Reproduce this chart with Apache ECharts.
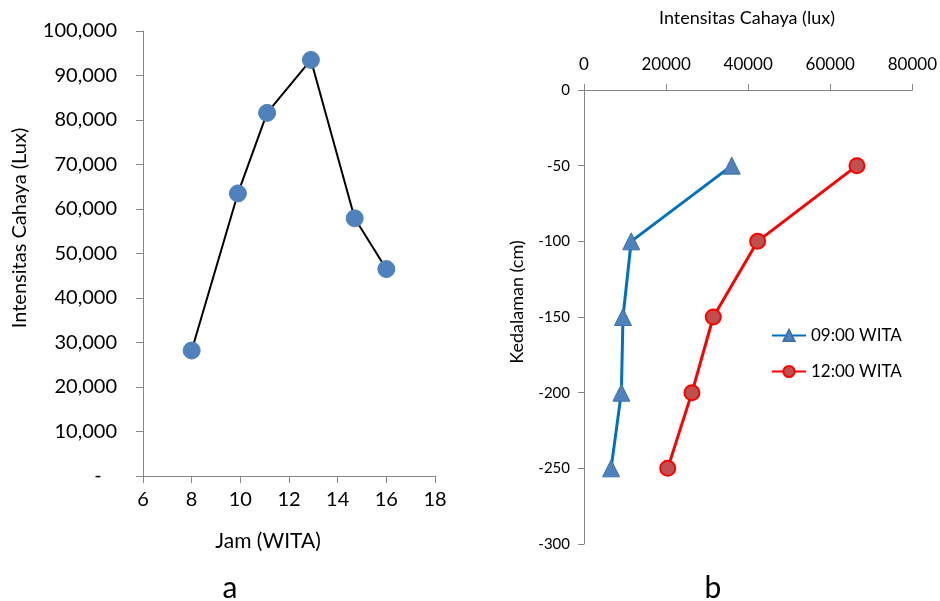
<!DOCTYPE html>
<html>
<head>
<meta charset="utf-8">
<script src="https://cdn.jsdelivr.net/npm/echarts@6/dist/echarts.min.js"></script>
<style>
  html, body { margin: 0; padding: 0; background: #fff; }
  #chart { width: 940px; height: 601px; }
</style>
</head>
<body>
<div id="chart"></div>
<script>
// grafik a: intensitas cahaya per jam
var jam = [8, 9.9, 11.1, 12.9, 14.7, 16];
var intensitas = [28200, 63500, 81600, 93500, 57900, 46500];

// grafik b: intensitas per kedalaman
var kedalaman = [-50, -100, -150, -200, -250];
var lux0900 = [36000, 11500, 9500, 9100, 6600];
var lux1200 = [66500, 42300, 31500, 26300, 20400];
var namaSeri = ['09:00 WITA', '12:00 WITA'];

var font = 'Lato, "Open Sans", sans-serif';
var axisGrey = '#868686';

function pasangkan(xs, ys) {
    var out = [];
    for (var i = 0; i < xs.length; i++) out.push([xs[i], ys[i]]);
    return out;
}

function ribuan(v) {
    if (v === 0) return '-   ';
    return String(v).replace(/\B(?=(\d{3})+(?!\d))/g, ',');
}

var myChart = echarts.init(document.getElementById('chart'));

var option = {
    backgroundColor: '#fff',
    animation: false,
    textStyle: { fontFamily: font },
    grid: [
        { left: 143, top: 31, width: 292, height: 445 },
        { left: 584, top: 90, width: 330, height: 454 }
    ],
    legend: {
        data: namaSeri,
        orient: 'vertical',
        left: 771,
        top: 327,
        padding: 0,
        itemWidth: 34,
        itemHeight: 14,
        itemGap: 19,
        textStyle: { fontFamily: font, fontSize: 17, color: '#000' }
    },
    xAxis: [
        {
            gridIndex: 0,
            type: 'value',
            min: 6, max: 18, interval: 2,
            axisLine: { show: true, lineStyle: { color: axisGrey } },
            axisTick: { show: true, length: 7, lineStyle: { color: axisGrey } },
            splitLine: { show: false },
            axisLabel: { fontSize: 20, color: '#000', margin: 14, fontFamily: font }
        },
        {
            gridIndex: 1,
            type: 'value',
            position: 'top',
            min: 0, max: 80000, interval: 20000,
            axisLine: { show: true, lineStyle: { color: axisGrey } },
            axisTick: { show: true, length: 6, lineStyle: { color: axisGrey } },
            splitLine: { show: false },
            axisLabel: { fontSize: 17, color: '#000', margin: 17, fontFamily: font,
                         formatter: function (v) { return String(v); } }
        }
    ],
    yAxis: [
        {
            gridIndex: 0,
            type: 'value',
            min: 0, max: 100000, interval: 10000,
            axisLine: { show: true, lineStyle: { color: axisGrey } },
            axisTick: { show: true, length: 7, lineStyle: { color: axisGrey } },
            splitLine: { show: false },
            axisLabel: { fontSize: 20, color: '#000', margin: 26, formatter: ribuan, fontFamily: font }
        },
        {
            gridIndex: 1,
            type: 'value',
            min: -300, max: 0, interval: 50,
            axisLine: { show: true, onZero: false, lineStyle: { color: axisGrey } },
            axisTick: { show: true, length: 6, lineStyle: { color: axisGrey } },
            splitLine: { show: false },
            axisLabel: { fontSize: 15, color: '#000', margin: 14, fontFamily: font }
        }
    ],
    series: [
        {
            type: 'line',
            xAxisIndex: 0, yAxisIndex: 0,
            data: pasangkan(jam, intensitas),
            symbol: 'circle',
            symbolSize: 17,
            lineStyle: { color: '#000', width: 2 },
            itemStyle: { color: '#4F81BD', borderColor: '#4F81BD', borderWidth: 1 },
            z: 3
        },
        {
            name: namaSeri[0],
            type: 'line',
            xAxisIndex: 1, yAxisIndex: 1,
            data: pasangkan(lux0900, kedalaman),
            symbol: 'triangle',
            symbolSize: 17,
            lineStyle: { color: '#0070C0', width: 3 },
            itemStyle: { color: '#4F81BD', borderColor: '#3C72B0', borderWidth: 1 },
            z: 3
        },
        {
            name: namaSeri[1],
            type: 'line',
            xAxisIndex: 1, yAxisIndex: 1,
            data: pasangkan(lux1200, kedalaman),
            symbol: 'circle',
            symbolSize: 15,
            lineStyle: { color: '#FF0000', width: 3 },
            itemStyle: { color: '#C0504D', borderColor: '#FF0000', borderWidth: 2 },
            z: 3
        }
    ],
    graphic: [
        {
            type: 'text', x: 268, y: 541,
            style: { text: 'Jam (WITA)', fontSize: 21, fill: '#000', fontFamily: font,
                     align: 'center', verticalAlign: 'middle' }
        },
        {
            type: 'text', x: 20, y: 228, rotation: Math.PI / 2,
            style: { text: 'Intensitas Cahaya (Lux)', fontSize: 20, fill: '#000', fontFamily: font,
                     align: 'center', verticalAlign: 'middle' }
        },
        {
            type: 'text', x: 747, y: 18,
            style: { text: 'Intensitas Cahaya (lux)', fontSize: 18, fill: '#000', fontFamily: font,
                     align: 'center', verticalAlign: 'middle' }
        },
        {
            type: 'text', x: 517, y: 302, rotation: Math.PI / 2,
            style: { text: 'Kedalaman (cm)', fontSize: 18, fill: '#000', fontFamily: font,
                     align: 'center', verticalAlign: 'middle' }
        },
        {
            type: 'text', x: 230, y: 588,
            style: { text: 'a', fontSize: 30, fill: '#000', fontFamily: font,
                     align: 'center', verticalAlign: 'middle' }
        },
        {
            type: 'text', x: 713, y: 588,
            style: { text: 'b', fontSize: 30, fill: '#000', fontFamily: font,
                     align: 'center', verticalAlign: 'middle' }
        }
    ]
};

myChart.setOption(option);
</script>
</body>
</html>
